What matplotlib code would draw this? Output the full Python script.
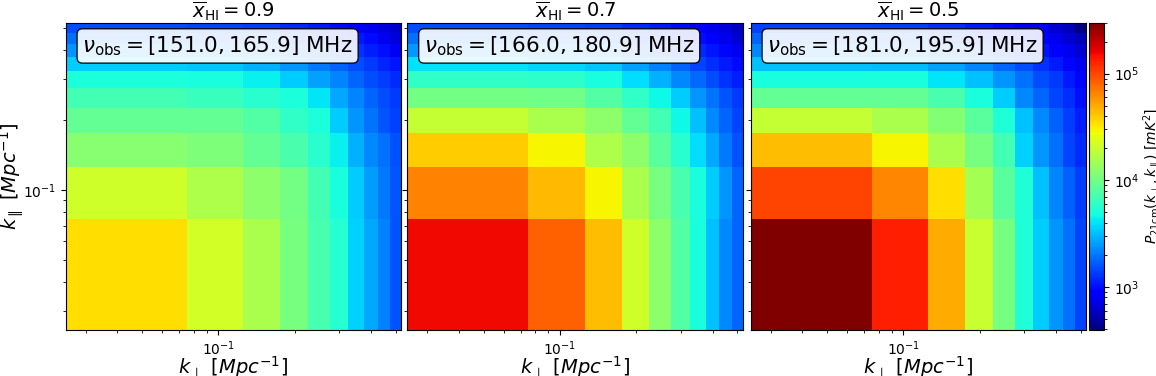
import numpy as np
import matplotlib
matplotlib.use("Agg")
import matplotlib.pyplot as plt
from matplotlib.colors import LogNorm

# bin edges (Mpc^-1), same for k_perp and k_par
k_edges = [0.025, 0.075, 0.125, 0.175, 0.225, 0.275, 0.325, 0.375, 0.425, 0.475, 0.525]

xHI_values = [0.9, 0.7, 0.5]
nu_ranges = ["[151.0, 165.9]", "[166.0, 180.9]", "[181.0, 195.9]"]

# P_21cm [mK^2]; rows = k_par bins (low -> high), cols = k_perp bins (low -> high)
P_xHI09 = [
    [34200, 21800, 15970, 10670, 7125, 5540, 3555, 2728, 2094, 1606],
    [21200, 16300, 12500, 10250, 6890, 4950, 3440, 2553, 2025, 1606],
    [12020, 10960, 8980, 7365, 5650, 4337, 2915, 2240, 1896, 1553],
    [8980, 8980, 7870, 6040, 5117, 3440, 2390, 1960, 1606, 1407],
    [6890, 6450, 5650, 5117, 4058, 2728, 2163, 1774, 1503, 1318],
    [5117, 4950, 4337, 3440, 2640, 2163, 1774, 1503, 1360, 1190],
    [3440, 3330, 2915, 2390, 2025, 1717, 1503, 1318, 1155, 1045],
    [2390, 2312, 2163, 1896, 1660, 1455, 1275, 1115, 1010, 800],
    [1896, 1835, 1717, 1503, 1360, 1230, 1080, 980, 775, 700],
    [1503, 1455, 1360, 1190, 1080, 980, 885, 775, 700, 635],
]

P_xHI07 = [
    [155000, 82400, 43300, 21200, 12500, 7870, 4950, 3220, 2240, 1770],
    [66400, 44900, 29600, 15970, 10670, 7365, 4950, 3440, 2390, 1770],
    [39500, 29600, 16300, 12500, 8410, 5650, 3800, 2730, 2025, 1553],
    [19400, 15970, 12500, 8980, 6890, 4630, 3220, 2240, 1770, 1455],
    [10250, 9910, 7870, 6040, 4630, 3440, 2390, 1960, 1606, 1318],
    [6040, 5840, 4950, 3800, 2915, 2240, 1835, 1503, 1275, 1115],
    [3930, 3680, 3330, 2640, 2094, 1717, 1455, 1230, 1080, 980],
    [2470, 2390, 2163, 1835, 1503, 1360, 1190, 1045, 945, 775],
    [1896, 1835, 1660, 1455, 1275, 1115, 1010, 830, 750, 650],
    [1503, 1455, 1360, 1190, 1080, 980, 830, 750, 680, 575],
]

P_xHI05 = [
    [300000, 133700, 49900, 20100, 10670, 5280, 3440, 2390, 1896, 1455],
    [101900, 64200, 34200, 15240, 8410, 5280, 3220, 2163, 1717, 1360],
    [43300, 29600, 15970, 10670, 6890, 3555, 2390, 1896, 1455, 1190],
    [19400, 15970, 11700, 8410, 5280, 3220, 2240, 1717, 1360, 1115],
    [8980, 8980, 7365, 4950, 3440, 2240, 1774, 1455, 1230, 1010],
    [4950, 4950, 4058, 3220, 2390, 1896, 1503, 1318, 1080, 945],
    [3220, 3110, 2640, 2163, 1774, 1503, 1275, 1080, 945, 775],
    [2240, 2163, 1960, 1660, 1407, 1230, 1045, 860, 775, 650],
    [1774, 1717, 1503, 1318, 1155, 1010, 830, 750, 650, 560],
    [1407, 1360, 1230, 1080, 980, 800, 750, 650, 560, 400],
]

P_all = [P_xHI09, P_xHI07, P_xHI05]
P_min, P_max = 400, 3.0e5

W, H = 1156, 376
fig = plt.figure(figsize=(W / 100, H / 100), dpi=100)

panel_lefts_px = [65.7, 407.3, 750.7]
panel_width_px = 335.3
ax_bottom = (H - 329.5) / H
ax_height = (329.5 - 22.8) / H

norm = LogNorm(vmin=P_min, vmax=P_max)
axes = []
mesh = None
for i, (xhi, nu, P) in enumerate(zip(xHI_values, nu_ranges, P_all)):
    ax = fig.add_axes([panel_lefts_px[i] / W, ax_bottom, panel_width_px / W, ax_height])
    mesh = ax.pcolormesh(k_edges, k_edges, np.array(P), cmap="jet", norm=norm, shading="flat")
    ax.set_xscale("log")
    ax.set_yscale("log")
    ax.set_xlim(k_edges[0], k_edges[-1])
    ax.set_ylim(k_edges[0], k_edges[-1])
    ax.set_title(r"$\overline{x}_{\rm HI} = %.1f$" % xhi, fontsize=14, pad=4)
    ax.set_xlabel(r"$k_{\perp}\ [Mpc^{-1}]$", fontsize=14, labelpad=-3)
    if i == 0:
        ax.set_ylabel(r"$k_{\parallel}\ [Mpc^{-1}]$", fontsize=14, labelpad=-2)
    else:
        ax.tick_params(axis="y", which="both", labelleft=False)
    ax.tick_params(labelsize=10)
    ax.text(0.05, 0.963, r"$\nu_{\rm obs} = %s$ MHz" % nu, transform=ax.transAxes,
            fontsize=15.5, va="top", ha="left",
            bbox=dict(boxstyle="round,pad=0.25", facecolor="white", edgecolor="black", alpha=0.9))
    axes.append(ax)

cax = fig.add_axes([1089.3 / W, ax_bottom, 15 / W, ax_height])
cb = fig.colorbar(mesh, cax=cax)
cb.set_label(r"$P_{\rm 21cm}(k_{\perp}, k_{\parallel})\ [mK^2]$", fontsize=10, labelpad=1)
cb.ax.tick_params(labelsize=10)

fig.savefig("out.png", dpi=100)
